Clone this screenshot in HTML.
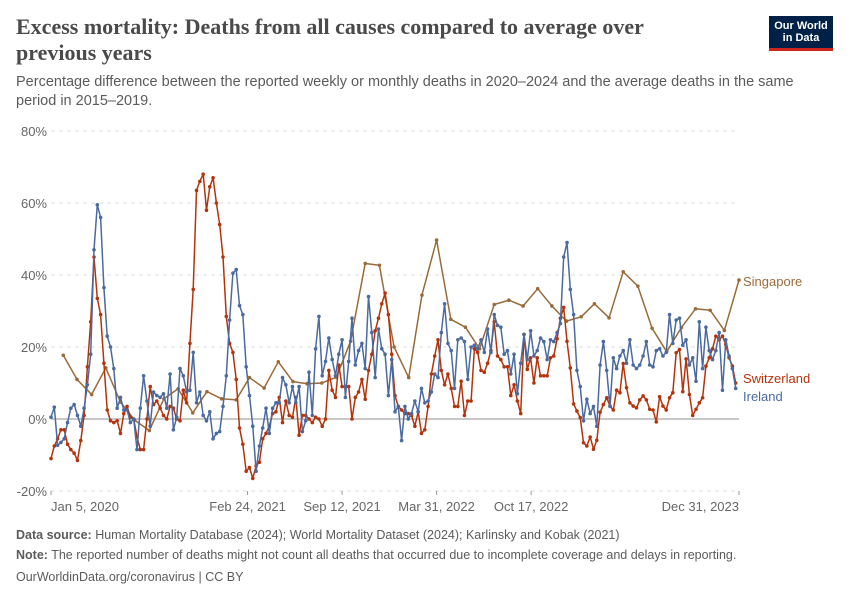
<!DOCTYPE html>
<html><head><meta charset="utf-8">
<style>
body{margin:0;background:#fff;font-family:"Liberation Sans",sans-serif;}
#wrap{position:relative;width:850px;height:600px;overflow:hidden;}
.t{position:absolute;}
</style></head>
<body>
<div id="wrap">
<div class="t" style="left:16px;top:14px;width:700px;font-family:'Liberation Serif',serif;font-weight:bold;font-size:22px;line-height:26px;color:#4a4a4a;">Excess mortality: Deaths from all causes compared to average over previous years</div>
<div class="t" style="left:16px;top:73px;width:800px;font-size:14.5px;line-height:19px;color:#5b5b5b;">Percentage difference between the reported weekly or monthly deaths in 2020–2024 and the average deaths in the same period in 2015–2019.</div>
<div class="t" style="left:769px;top:16px;width:64px;height:35px;background:#002147;border-bottom:3px solid #ce261e;box-sizing:border-box;color:#fff;font-size:11px;line-height:12px;text-align:center;padding-top:4px;font-weight:bold;">Our World<br>in Data</div>
<svg id="chart" width="850" height="600" style="position:absolute;left:0;top:0;"></svg>
<div class="t" style="left:16px;top:528px;font-size:12.5px;color:#5b5b5b;"><b>Data source:</b> Human Mortality Database (2024); World Mortality Dataset (2024); Karlinsky and Kobak (2021)</div>
<div class="t" style="left:16px;top:548px;font-size:12.5px;color:#5b5b5b;"><b>Note:</b> The reported number of deaths might not count all deaths that occurred due to incomplete coverage and delays in reporting.</div>
<div class="t" style="left:16px;top:570px;font-size:12.5px;color:#5b5b5b;">OurWorldinData.org/coronavirus | CC BY</div>
</div>
<script>
const yTicks=[-20,0,20,40,60,80];
const xTickDates=["2020-01-05","2021-02-24","2021-09-12","2022-03-31","2022-10-17","2023-12-31"];
const xTickLabels=["Jan 5, 2020","Feb 24, 2021","Sep 12, 2021","Mar 31, 2022","Oct 17, 2022","Dec 31, 2023"];
const irelandValues=[0.5,3.3,-7.3,-6.5,-5.5,-1,3,4,1,-2,3,9.5,18,47,59.5,56,36.5,23,20,14,3,6,2.5,2.5,-1,0,-8.5,3,12,5,-2,7.5,6.5,6,7,3,12.5,-3,0.5,14,12,7.5,8,18.5,4.5,7.5,1,-0.5,2,-5.5,-4,-3.5,3.5,12,27.5,40.5,41.5,31.5,29,14.5,6.5,-2,-14.5,-7.5,-2.5,3,-4,3,4.5,4.5,11.5,9.5,4.5,9,4.5,9,-3.5,-0.5,13,1,19.5,28.5,12,16,22.5,16.5,12,18,22,6,16,28,15,19,21,14,34,24,11.5,25,19.5,18,6.5,16.5,2,3.5,-6,3.5,0,1.5,5,2,8.5,4.5,5,7.5,12.5,11.5,24,32,21,19,8.5,22,22.5,21.5,11,20,20.5,19.5,22,18.5,25,18.5,29,26,25.5,18,19,12.5,18,7,15.5,23.5,16.5,24.5,17.5,19,22.5,21.5,16.5,22,21.5,24,26.5,45,49,36,29,13.5,9,-0.5,5.5,1.5,3.5,-2,15,21.5,13.5,3.5,17,14,17.5,19,15.5,22,15,14,15,17.5,21.5,15,14.5,19,19.5,17.5,18.5,29,21,27.5,28,20.5,22,15,17,10.5,27,14,25.5,19,16.5,19,24,8,22,17.5,14,8.5];
const switzerlandValues=[-11,-7.5,-5.5,-3,-3,-7,-8.5,-9.5,-11.5,-6,1,14.5,27,45,33.5,29,15.5,2.5,-0.5,-1,-0.5,-4,1.5,3.5,0.5,0,-5,-8.5,-8.5,0,9,4,5,3,1,0,3.5,3,0,-0.5,8,4.5,21,36,63.5,66,68,58,64.5,67,60,54,45,28.5,21,18.5,11,-2.5,-7,-14.5,-13.5,-16.5,-13,-12,-5.5,-4,-2,1.5,2,6,-1,5,1,0.5,6,-4.5,1,1,0,-1,0.5,0,-2,0,13.5,8,6,15,9,9,9,0,6,7.5,11,5.5,13.5,18,24.5,28,32,35,29,18,6.5,3.5,2.5,1.5,1.5,1,-2,2,-4,-3,3.5,12.5,17.5,22,13.5,9.5,12.5,8.5,3.5,3.5,10.5,1,5,5,19.5,18.5,13.5,13,15.5,19,27,17.5,16.5,14.5,14.5,6.5,9.5,5,1.5,23.5,13.8,17,10,17,12,12,12,17,17.5,22.3,28,31,21.6,14.2,4.2,2.2,0.4,-6.6,-7.5,-5,-8.4,-5.9,1.9,4,5.9,3.6,2.5,8,7.3,15.4,8.7,4.5,3.6,3.1,5.3,6.4,5.3,2.7,2.5,-0.8,6.2,3.6,2.5,5.9,7.3,18.4,19.3,7.6,16.7,6.8,1,2.7,4.5,5.9,14.7,17,19.5,23,22,23,20.7,17,14.7,10];
const singaporeValues=[17.7,11,6.8,14.2,4.7,-0.3,-3.2,5.6,8.4,1.7,7.6,5.6,5.3,11.5,8.6,15.9,10.4,9.8,10,11.6,21.6,43.2,42.7,20,11.5,34.4,49.7,27.7,25.5,19.5,31.8,33,31.4,36.2,31.4,27.2,28.4,32,28.1,40.9,36.9,25.2,18.7,25.4,30.6,30.2,24.6,38.6];

const NS="http://www.w3.org/2000/svg";
const svg=document.getElementById('chart');
const X0=51,X1=739,Y0=491,Y1=131;
const D0=Date.UTC(2020,0,5),D1=Date.UTC(2023,11,31);
function xs(t){return X0+(t-D0)/(D1-D0)*(X1-X0);}
function ys(v){return Y0-(v-(-20))/100*(Y0-Y1);}
function mk(tag,attrs){const e=document.createElementNS(NS,tag);for(const k in attrs)e.setAttribute(k,attrs[k]);svg.appendChild(e);return e;}
function parse(s){const p=s.split('-');return Date.UTC(+p[0],+p[1]-1,+p[2]);}

yTicks.forEach(v=>{
  const l=mk('line',{x1:X0,x2:X1,y1:ys(v),y2:ys(v),stroke:v===0?'#a8a8a8':'#dddddd','stroke-width':v===0?1.3:1,'stroke-dasharray':v===0?'none':'4,4'});
  
  
  const t=mk('text',{x:47,y:ys(v)+5,'text-anchor':'end','font-size':13,fill:'#666','font-family':'Liberation Sans, sans-serif'});
  t.textContent=v+'%';
  
  
});
xTickDates.forEach((d,i)=>{
  const x=xs(parse(d));
  const tk=mk('line',{x1:x,x2:x,y1:Y0,y2:Y0+4,stroke:'#999','stroke-width':1});
  
  
  const anchor=i===0?'start':(i===xTickDates.length-1?'end':'middle');
  const t=mk('text',{x:x,y:Y0+20,'text-anchor':anchor,'font-size':13,fill:'#666','font-family':'Liberation Sans, sans-serif'});
  t.textContent=xTickLabels[i];
  
  
});

function weeklyDates(n){const a=[];for(let i=0;i<n;i++)a.push(D0+i*7*864e5);return a;}
function monthlyDates(n){const a=[];for(let i=0;i<n;i++)a.push(Date.UTC(2020,i+1,0));return a;}

function series(vals,dates,color,name){
  const pts=vals.map((v,i)=>xs(dates[i]).toFixed(1)+','+ys(v).toFixed(1)).join(' ');
  const pl=mk('polyline',{points:pts,fill:'none',stroke:color,'stroke-width':1.5,'stroke-linejoin':'round'});
  
  
  vals.forEach((v,i)=>{
    const c=mk('circle',{cx:xs(dates[i]),cy:ys(v),r:1.8,fill:color});
    
    
  });
}
series(singaporeValues,monthlyDates(singaporeValues.length),'#9a6b3a','singapore');
series(switzerlandValues,weeklyDates(switzerlandValues.length),'#b5330b','switzerland');
series(irelandValues,weeklyDates(irelandValues.length),'#4a6aa0','ireland');

const labels=[["Singapore",286,'#9a6b3a'],["Switzerland",383,'#b5330b'],["Ireland",401,'#4a6aa0']];
labels.forEach(l=>{
  const t=mk('text',{x:743,y:l[1],'font-size':13,fill:l[2],'font-family':'Liberation Sans, sans-serif'});
  t.textContent=l[0];
  
  
});
</script>
</body></html>
